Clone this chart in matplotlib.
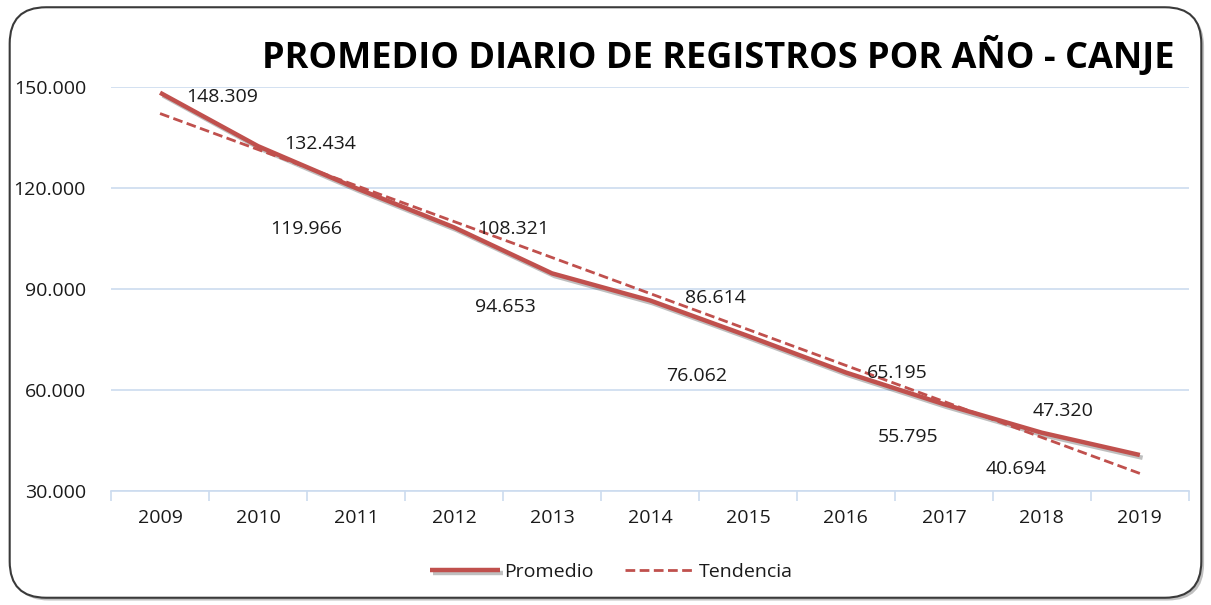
import numpy as np
import matplotlib
matplotlib.use('Agg')
import matplotlib.pyplot as plt
from matplotlib.patches import FancyBboxPatch
from matplotlib.ticker import FuncFormatter, FixedLocator
import matplotlib.patheffects as pe

plt.rcParams['font.family'] = ['Open Sans', 'DejaVu Sans']

years = [2009, 2010, 2011, 2012, 2013, 2014, 2015, 2016, 2017, 2018, 2019]
promedio = [148309, 132434, 119966, 108321, 94653, 86614, 76062, 65195, 55795, 47320, 40694]
y_ticks = [30000, 60000, 90000, 120000, 150000]

# offsets (pixels) of each data label from its point, as placed in the original
label_dx = [62, 62, -50, 59, -47, 65, -51, 51, -36, 21, -124]
label_dy = [-4, 2, -41, -2, -34, 2, -40, 0, -33, 22, -14]

def miles(v, pos=None):
    return f'{int(round(v)):,}'.replace(',', '.')

red = '#C0504D'
grid_c = '#CCDBEF'
txt_c = '#1a1a1a'

fig = plt.figure(figsize=(12.11, 6.05), dpi=100)

# rounded frame
frame = FancyBboxPatch((0.008, 0.012), 0.984, 0.976, boxstyle='round,pad=0,rounding_size=0.03',
                       transform=fig.transFigure, facecolor='white', edgecolor='#3a3a3a',
                       linewidth=1.5, mutation_aspect=2.0, zorder=-10,
                       path_effects=[pe.SimplePatchShadow(offset=(2, -2), alpha=0.35), pe.Normal()])
fig.patches.append(frame)

ax = fig.add_axes([0.0917, 0.1884, 0.890, 0.6678])
ax.set_facecolor('none')

x = np.arange(len(years))
trend = np.polyval(np.polyfit(x, promedio, 1), x)

shadow = [pe.SimpleLineShadow(offset=(2, -2), alpha=0.25, shadow_color='black'), pe.Normal()]
ax.plot(x, promedio, color=red, lw=3.2, solid_capstyle='butt', label='Promedio',
        clip_on=False, path_effects=shadow, zorder=3)
ax.plot(x, trend, color=red, lw=2.0, ls=(0, (3.5, 1.6)), label='Tendencia',
        clip_on=False, zorder=4)

for i, v in enumerate(promedio):
    ax.annotate(miles(v), (x[i], v), xytext=(label_dx[i] * 0.72, label_dy[i] * 0.72),
                textcoords='offset points', ha='center', va='center',
                fontsize=14, color=txt_c, zorder=5)

ax.set_xlim(-0.5, len(years) - 0.5)
ax.set_ylim(30000, 150000)
ax.set_yticks(y_ticks)
ax.yaxis.set_major_formatter(FuncFormatter(miles))
ax.set_xticks(x)
ax.set_xticklabels([str(y) for y in years])
ax.xaxis.set_minor_locator(FixedLocator(np.arange(-0.5, len(years), 1.0)))
ax.tick_params(axis='x', which='major', length=0, pad=13, labelsize=14, labelcolor=txt_c)
ax.tick_params(axis='x', which='minor', length=7, color=grid_c, width=1.2)
ax.tick_params(axis='y', length=0, pad=18, labelsize=14, labelcolor=txt_c)
ax.grid(axis='y', color=grid_c, lw=1.2)
ax.set_axisbelow(True)
for s in ['top', 'right', 'left']:
    ax.spines[s].set_visible(False)
ax.spines['bottom'].set_color(grid_c)
ax.spines['bottom'].set_linewidth(1.2)

fig.text(0.970, 0.905, 'PROMEDIO DIARIO DE REGISTROS POR AÑO - CANJE', ha='right', va='center',
         fontsize=26, fontweight='bold', color='black')

fig.legend(*ax.get_legend_handles_labels(), loc='center', bbox_to_anchor=(0.505, 0.055),
           ncol=2, frameon=False, fontsize=14, handlelength=3.6, columnspacing=1.6,
           handletextpad=0.2, labelcolor=txt_c)

fig.savefig('out.png', dpi=100)
